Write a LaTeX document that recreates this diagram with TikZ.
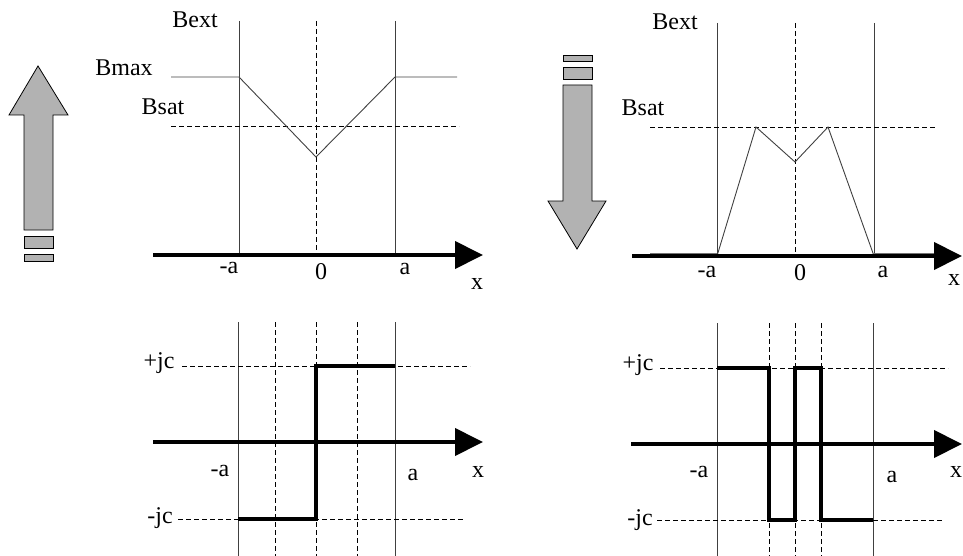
\documentclass[tikz,border=0pt]{standalone}
\usepackage{fontspec}
\setmainfont{Liberation Serif}
\usetikzlibrary{arrows.meta}

\begin{document}
\begin{tikzpicture}[x=1pt,y=-1pt,
    every node/.style={font=\fontsize{24}{28}\selectfont,inner sep=0pt},
    thinline/.style={line width=0.9pt,black!75},
    guide/.style={line width=0.9pt,dash pattern=on 5pt off 3pt},
    axis/.style={line width=4pt,-{Triangle[length=28pt,width=27pt]}},
    current/.style={line width=4pt},
    bigarrow/.style={draw,line width=0.8pt,fill=black!30}]
  \useasboundingbox (0,0) rectangle (963,556);

  % field, increasing
  \draw[bigarrow] (24,230) -- (24,115) -- (9,115) -- (38,66) -- (68,115) -- (53,115) -- (53,230) -- cycle;
  \draw[bigarrow] (24,236) rectangle (53,248);
  \draw[bigarrow] (24,254) rectangle (53,261);
  \draw[thinline] (239,21) -- (239,255);
  \draw[thinline] (395,21) -- (395,255);
  \draw[guide] (316,21) -- (316,255);
  \draw[guide] (171,126) -- (459,126);
  \draw[thinline] (171,77) -- (239,77) -- (316,157) -- (395,77) -- (457,77);
  \draw[axis] (153,255) -- (483,255);
  \node (bextl) at (195,20) {Bext};
  \node (bmaxl) at (124,68) {Bmax};
  \node (bsatl) at (163,107) {Bsat};
  \node (mal) at (229,268) {-a};
  \node (zl) at (321,272) {0};
  \node (pal) at (405,269) {a};
  \node (xl) at (477,284) {x};

  % field, decreasing
  \draw[bigarrow] (563,85) -- (563,201) -- (548,201) -- (577,249) -- (606,201) -- (592,201) -- (592,85) -- cycle;
  \draw[bigarrow] (563,67) rectangle (592,79);
  \draw[bigarrow] (563,55) rectangle (592,61);
  \draw[thinline] (717,23) -- (717,256);
  \draw[thinline] (874,23) -- (874,256);
  \draw[guide] (795,23) -- (795,256);
  \draw[guide] (650,127) -- (937,127);
  \draw[thinline,black!55] (650,253.5) -- (717,253.5);
  \draw[thinline,black!55] (874,253.5) -- (935,253.5);
  \draw[thinline] (717,256) -- (756,127) -- (795,162) -- (828,127) -- (874,256);
  \draw[axis] (632,256) -- (962,256);
  \node (bextr) at (675,22) {Bext};
  \node (bsatr) at (643,108) {Bsat};
  \node (mar) at (707,272) {-a};
  \node (zr) at (800,273) {0};
  \node (par) at (883,272) {a};
  \node (xr) at (954,280) {x};

  % current, increasing
  \draw[thinline] (238,322) -- (238,556);
  \draw[thinline] (395,322) -- (395,556);
  \foreach \xg in {275,316,357}
    \draw[guide] (\xg,322) -- (\xg,556);
  \draw[guide] (182,366) -- (470,366);
  \draw[guide] (178,519) -- (465,519);
  \draw[axis] (153,442) -- (483,442);
  \draw[current] (238,519) -- (316,519) -- (316,366) -- (395,366);
  \node (jpl) at (159,363) {+jc};
  \node (jml) at (160,518) {-jc};
  \node (ma2l) at (220,471) {-a};
  \node (pa2l) at (413,475) {a};
  \node (x2l) at (478,472) {x};

  % current, decreasing
  \draw[thinline] (717,323) -- (717,556);
  \draw[thinline] (873,323) -- (873,556);
  \foreach \xg in {769,795,821}
    \draw[guide] (\xg,323) -- (\xg,556);
  \draw[guide] (660,368) -- (948,368);
  \draw[guide] (657,520) -- (943,520);
  \draw[axis] (631,444) -- (962,444);
  \draw[current] (717,368) -- (769,368) -- (769,520) -- (795,520) -- (795,368) -- (821,368) -- (821,520) -- (873,520);
  \node (jpr) at (638,365) {+jc};
  \node (jmr) at (640,520) {-jc};
  \node (ma2r) at (699,472) {-a};
  \node (pa2r) at (892,477) {a};
  \node (x2r) at (956,472) {x};
\end{tikzpicture}
\end{document}
